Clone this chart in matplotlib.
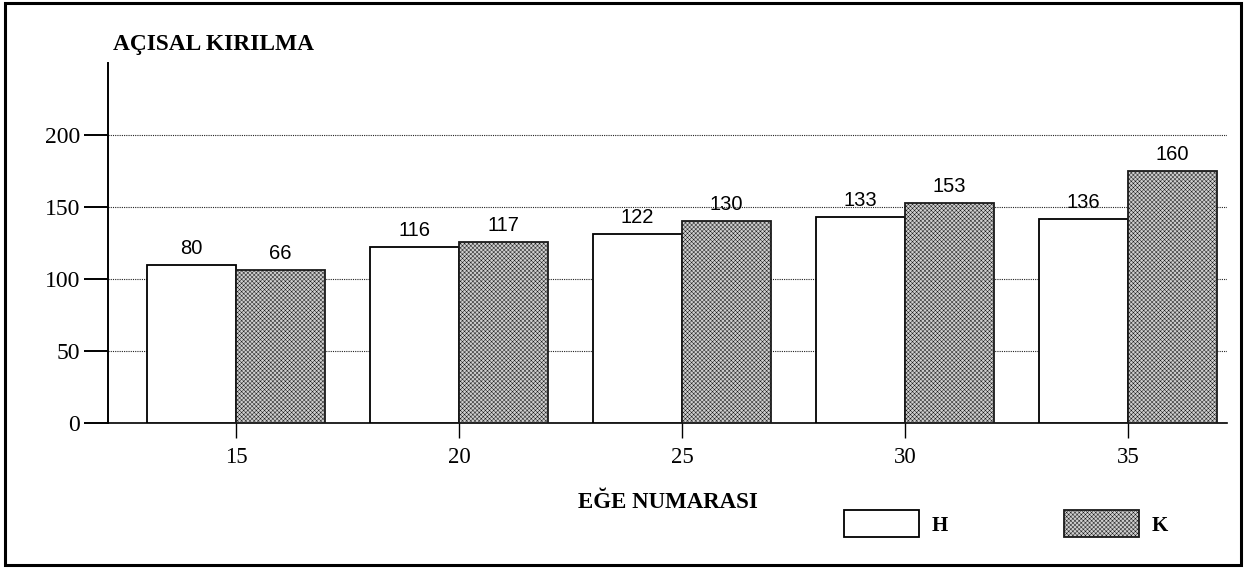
import matplotlib
matplotlib.use('Agg')
import matplotlib.pyplot as plt
from matplotlib.patches import Rectangle

# ---- data ----
egeler = [15, 20, 25, 30, 35]                 # x categories (EĞE NUMARASI)
h_heights = [110, 122, 131, 143, 142]         # drawn heights of H bars
k_heights = [106, 126, 140, 153, 175]         # drawn heights of K bars
h_labels = ['80', '116', '122', '133', '136'] # printed values above H bars
k_labels = ['66', '117', '130', '153', '160'] # printed values above K bars
y_ticks = [0, 50, 100, 150, 200]
series_names = ['H', 'K']

W, H = 1247, 569
plt.rcParams['hatch.linewidth'] = 0.35
fig = plt.figure(figsize=(W / 100, H / 100), dpi=100)


def px(x0, y0, x1, y1):
    return [x0 / W, 1 - y1 / H, (x1 - x0) / W, (y1 - y0) / H]


ax = fig.add_axes(px(108, 63, 1227, 423))
serif = 'Liberation Serif'
sans = 'Liberation Sans'

bw = 2.0
hx = [e - bw / 2 for e in egeler]
kx = [e + bw / 2 for e in egeler]
bh = ax.bar(hx, h_heights, width=bw, facecolor='white', edgecolor='black',
            linewidth=1.3, zorder=3, label=series_names[0])
bk = ax.bar(kx, k_heights, width=bw, facecolor='#cfcfcf', edgecolor='#1a1a1a',
            hatch='xxxxxxxx', linewidth=1.3, zorder=3, label=series_names[1])

for x, h, t in zip(hx, h_heights, h_labels):
    ax.annotate(t, xy=(x, h), xytext=(0, 5), textcoords='offset points',
                ha='center', va='bottom', fontsize=14.5, family=sans, zorder=5)
for x, h, t in zip(kx, k_heights, k_labels):
    ax.annotate(t, xy=(x, h), xytext=(0, 5), textcoords='offset points',
                ha='center', va='bottom', fontsize=14.5, family=sans, zorder=5)

ax.set_xlim(12.13, 37.22)
ax.set_ylim(0, 250)
ax.set_xticks(egeler)
ax.set_xticklabels([str(e) for e in egeler], family=serif, fontsize=16.5)
ax.set_yticks(y_ticks)
ax.set_yticklabels([str(v) for v in y_ticks], family=serif, fontsize=17)
ax.tick_params(axis='y', length=17, width=1.4, pad=3, direction='out')
ax.tick_params(axis='x', length=11, width=1.0, pad=6, direction='out')

for s in ['top', 'right']:
    ax.spines[s].set_visible(False)
ax.spines['left'].set_linewidth(1.4)
ax.spines['bottom'].set_linewidth(1.2)

ax.yaxis.grid(True, linestyle=(0, (1, 1.0)), color='#222222', linewidth=0.8)
ax.set_axisbelow(True)

fig.text(113 / W, 1 - 50 / H, 'AÇISAL KIRILMA', family=serif,
         fontweight='bold', fontsize=16.8, ha='left', va='baseline')
fig.text(578 / W, 1 - 508 / H, 'EĞE NUMARASI', family=serif,
         fontweight='bold', fontsize=16.5, ha='left', va='baseline')

fig.legend(handles=[bh, bk], labels=series_names, loc='upper left',
           bbox_to_anchor=(844 / W, 1 - 510 / H), ncol=2, frameon=False,
           borderpad=0, borderaxespad=0, handlelength=3.6, handleheight=1.65,
           handletextpad=0.6, columnspacing=5.6,
           prop={'family': serif, 'weight': 'bold', 'size': 15})

fig.patches.append(Rectangle((5 / W, 1 - 565 / H), (1241 - 5) / W, (565 - 3) / H,
                             transform=fig.transFigure, fill=False,
                             edgecolor='black', linewidth=2.2))

fig.savefig('out.png', dpi=100)
